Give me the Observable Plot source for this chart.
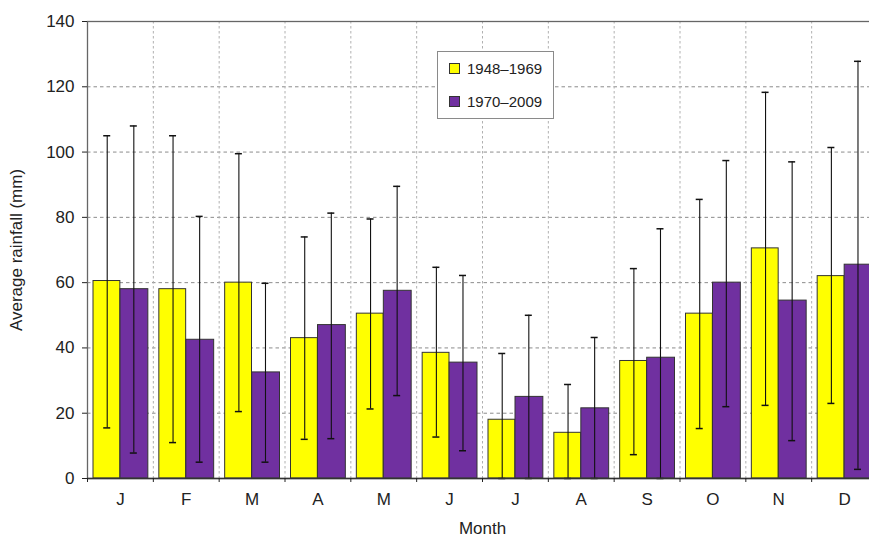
<!DOCTYPE html>
<html>
<head>
<meta charset="utf-8">
<script src="https://cdn.jsdelivr.net/npm/d3@7"></script>
<script src="https://cdn.jsdelivr.net/npm/@observablehq/plot@0.6"></script>
<style>
  html, body { margin: 0; padding: 0; background: #fff; overflow: hidden; }
  #wrap { position: relative; width: 869px; height: 536px; }
  #legend {
    position: absolute; left: 437px; top: 51px; width: 115px; height: 66px;
    border: 1.5px solid #8a8a8a; background: #fff;
    font-family: "Liberation Sans", Arial, sans-serif; font-size: 15px; color: #222;
  }
  .item { position: absolute; left: 11px; display: flex; align-items: center; }
  .sw { width: 9px; height: 9px; border: 1px solid #333; margin-right: 7px; }
</style>
</head>
<body>
<div id="wrap"><div id="legend"></div></div>
<script>
const months = ["Jan","Feb","Mar","Apr","May","Jun","Jul","Aug","Sep","Oct","Nov","Dec"];
const monthLabels = ["J","F","M","A","M","J","J","A","S","O","N","D"];
const seriesNames = ["1948–1969", "1970–2009"];
const seriesColors = ["#ffff00", "#7030a0"];

const mean1948  = [60.5, 58, 60, 43, 50.5, 38.5, 18, 14, 36, 50.5, 70.5, 62];
const upper1948 = [105, 105, 99.5, 74, 79.5, 64.7, 38.3, 28.8, 64.3, 85.5, 118.3, 101.4];
const lower1948 = [15.5, 11, 20.5, 12, 21.3, 12.7, 0, 0, 7.3, 15.3, 22.4, 23];

const mean1970  = [58, 42.5, 32.5, 47, 57.5, 35.5, 25, 21.5, 37, 60, 54.5, 65.5];
const upper1970 = [108, 80.3, 59.8, 81.3, 89.5, 62.2, 50, 43.2, 76.5, 97.4, 97, 127.8];
const lower1970 = [7.8, 5, 5, 12.2, 25.4, 8.5, 0, 0, 0, 22, 11.6, 2.8];

const yTicks = [0, 20, 40, 60, 80, 100, 120, 140];

const early = months.map((m, i) => ({month: m, mean: mean1948[i], lower: lower1948[i], upper: upper1948[i]}));
const late  = months.map((m, i) => ({month: m, mean: mean1970[i], lower: lower1970[i], upper: upper1970[i]}));

const W = 869, H = 536, ML = 87, MR = -8;
const bw = (W - MR - ML) / months.length;
const capInset = bw / 2 - 3.5;

function errorMarks(data, dx) {
  return [
    Plot.ruleX(data, {x: "month", y1: "lower", y2: "upper", dx, stroke: "#111", strokeWidth: 1.1}),
    Plot.tickY(data, {x: "month", y: "upper", dx, insetLeft: capInset, insetRight: capInset, stroke: "#111", strokeWidth: 1.5}),
    Plot.tickY(data, {x: "month", y: "lower", dx, insetLeft: capInset, insetRight: capInset, stroke: "#111", strokeWidth: 1.5})
  ];
}

const chart = Plot.plot({
  width: W, height: H,
  marginLeft: ML, marginRight: MR, marginTop: 21, marginBottom: 58,
  x: {domain: months, padding: 0, round: false, label: null, axis: null},
  y: {domain: [0, 140], label: null, axis: null},
  style: {fontFamily: "'Liberation Sans', Arial, sans-serif", fontSize: "17px", color: "#222", background: "#fff", overflow: "hidden"},
  marks: [
    Plot.gridY(yTicks.slice(1, -1), {stroke: "#8c8c8c", strokeOpacity: 1, strokeDasharray: "3.5,3"}),
    Plot.gridX(months, {dx: -bw / 2, stroke: "#b0b0b0", strokeOpacity: 1, strokeDasharray: "2.5,2.5"}),
    Plot.barY(early, {x: "month", y: "mean", fill: seriesColors[0], stroke: "#333", strokeWidth: 1, insetLeft: 6, insetRight: 33}),
    Plot.barY(late, {x: "month", y: "mean", fill: seriesColors[1], stroke: "#333", strokeWidth: 1, insetLeft: 33, insetRight: 5}),
    ...errorMarks(early, -13.2),
    ...errorMarks(late, 13.4),
    Plot.frame({stroke: "#666", strokeWidth: 1.3}),
    Plot.ruleY([0], {stroke: "#333", strokeWidth: 1.5}),
    Plot.axisY({ticks: yTicks, tickSize: 5, tickPadding: 8, label: "Average rainfall (mm)", labelArrow: "none", labelAnchor: "center", labelOffset: 78}),
    Plot.axisX({tickSize: 4, tickFormat: () => "", dx: -bw / 2, label: null}),
    Plot.axisX({tickSize: 0, tickPadding: 14, tickFormat: d => monthLabels[months.indexOf(d)], label: "Month", labelArrow: "none", labelAnchor: "center", labelOffset: 55})
  ]
});

document.getElementById("wrap").prepend(chart);

const legend = document.getElementById("legend");
seriesNames.forEach((name, i) => {
  const item = document.createElement("div");
  item.className = "item";
  item.style.top = (i === 0 ? 8 : 41) + "px";
  const sw = document.createElement("div");
  sw.className = "sw";
  sw.style.background = seriesColors[i];
  const t = document.createElement("span");
  t.textContent = name;
  item.append(sw, t);
  legend.append(item);
});
</script>
</body>
</html>
